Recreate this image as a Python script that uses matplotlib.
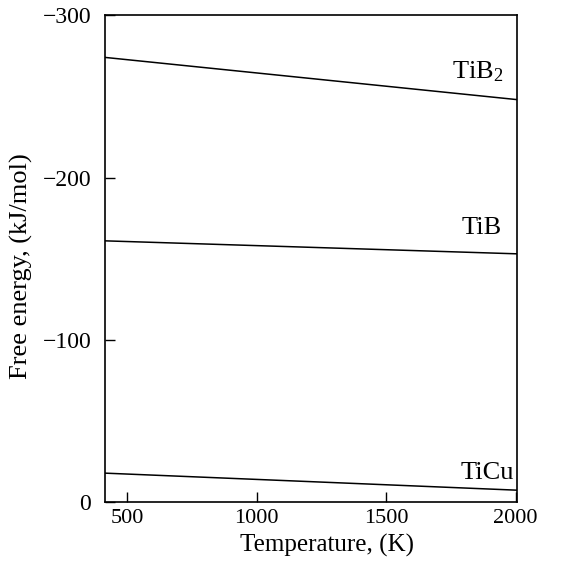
import matplotlib
matplotlib.use("Agg")
import matplotlib.pyplot as plt

# Data (endpoints at the axis edges; lines are straight)
temperature = [415, 2005]
tib2 = [-274, -248]
tib = [-161, -153]
ticu = [-17.9, -7.4]
labels = ["TiB$_\\mathrm{2}$", "TiB", "TiCu"]
label_pos = [(1855, -265), (1870, -169), (1889, -18)]
xticks = [500, 1000, 1500, 2000]
yticks = [-300, -200, -100, 0]

plt.rcParams['font.family'] = ['Liberation Serif', 'DejaVu Serif']
plt.rcParams['mathtext.fontset'] = 'custom'
plt.rcParams['mathtext.rm'] = 'Liberation Serif'
plt.rcParams['mathtext.it'] = 'Liberation Serif:italic'

fig = plt.figure(figsize=(5.77, 5.63), dpi=100)
ax = fig.add_axes([0.182, 0.108, 0.714, 0.865])

for series in (tib2, tib, ticu):
    ax.plot(temperature, series, color='black', lw=1.1)

ax.set_xlim(temperature[0], temperature[1])
ax.set_ylim(0, -300)
ax.set_xticks(xticks)
ax.set_yticks(yticks)
ax.set_yticklabels([str(v).replace('-', '\u2212') for v in yticks])
ax.tick_params(direction='in', length=7, width=1.0, labelsize=16)
ax.tick_params(axis='y', pad=10, labelsize=17)
ax.tick_params(axis='x', pad=5)
for s in ax.spines.values():
    s.set_linewidth(1.2)

for (x, y), lab in zip(label_pos, labels):
    ax.text(x, y, lab, fontsize=19, ha='center', va='center')

ax.set_xlabel("Temperature, (K)", fontsize=18)
ax.xaxis.set_label_coords(0.54, -0.066)
ax.set_ylabel("Free energy, (kJ/mol)", fontsize=19)
ax.yaxis.set_label_coords(-0.175, 0.485)

fig.savefig("out.png", dpi=100)
